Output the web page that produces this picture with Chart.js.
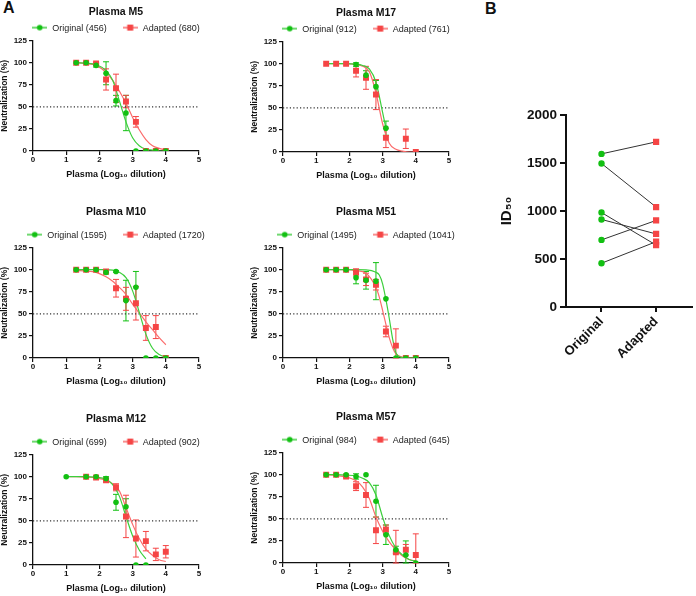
<!DOCTYPE html>
<html>
<head>
<meta charset="utf-8">
<script src="https://cdn.jsdelivr.net/npm/chart.js@4.4.1/dist/chart.umd.min.js"></script>
<style>
  body { margin: 0; background: #fff; width: 696px; height: 596px; overflow: hidden; position: relative;
         font-family: "Liberation Sans", Arial, sans-serif; }
  canvas { position: absolute; }
  .tag { position: absolute; font-weight: bold; font-size: 16px; line-height: 16px; color: #111; }
</style>
</head>
<body>
<div class="tag" style="left:3px;top:0px">A</div>
<div class="tag" style="left:485px;top:1px">B</div>
<canvas id="m5" width="220" height="190" style="left:0;top:0"></canvas>
<canvas id="m17" width="220" height="190" style="left:250px;top:1px"></canvas>
<canvas id="m10" width="220" height="197" style="left:0;top:200px"></canvas>
<canvas id="m51" width="220" height="197" style="left:250px;top:200px"></canvas>
<canvas id="m12" width="220" height="197" style="left:0;top:407px"></canvas>
<canvas id="m57" width="220" height="197" style="left:250px;top:405px"></canvas>
<canvas id="id50" width="216" height="390" style="left:480px;top:0"></canvas>
<script>
// x positions of the dilutions (log10)
const dilutions = [1.3, 1.6, 1.9, 2.2, 2.5, 2.8, 3.1, 3.4, 3.7, 4.0];
const dilutionsM12 = [1.0, 1.6, 1.9, 2.2, 2.5, 2.8, 3.1, 3.4, 3.7, 4.0];
const cutoffX = [0, 5];
const cutoffY = [50, 50];
const fitGrid = [1.3, 1.6, 1.9, 2.2, 2.4, 2.6, 2.8, 3.0, 3.2, 3.4, 3.6, 3.8, 4.0];

// Plasma M5
const m5Original = [100, 100, 97, 88, 57, 43, 0, 0, 0, 0];
const m5OriginalSD = [0, 0, 2, 13, 6, 20, 0, 0, 0, 0];
const m5Adapted = [100, 100, 99, 81, 71, 56, 33, 0, 0, 0];
const m5AdaptedSD = [0, 0, 1, 12, 16, 7, 6, 0, 0, 0];
const m5OriginalFit = [100, 99.5, 98, 91, 80, 57, 33, 15, 6, 2, 1, 0, 0];
const m5AdaptedFit = [100, 99, 97, 89, 80, 68, 54, 38, 24, 13, 6, 3, 1];

// Plasma M17
const m17Original = [null, null, null, 99, 87, 74, 27, null, null, null];
const m17OriginalSD = [0, 0, 0, 2, 5, 7, 8, 0, 0, 0];
const m17Adapted = [100, 100, 100, 92, 84, 65, 16, null, 15, 0];
const m17AdaptedSD = [0, 0, 0, 7, 13, 17, 11, 0, 11, 0];
const m17OriginalFitX = [1.3, 1.6, 1.9, 2.2, 2.4, 2.6, 2.8, 3.0, 3.1];
const m17OriginalFit = [100, 100, 100, 99.5, 98, 94, 79, 45, 27];
const m17AdaptedFit = [100, 100, 100, 99, 97, 91, 67, 32, 10, 3, 1, 0, 0];

// Plasma M10
const m10Original = [100, 100, 100, 97, 98, 65, 80, 0, 0, 0];
const m10OriginalSD = [0, 0, 0, 2, 1, 23, 18, 0, 0, 0];
const m10Adapted = [100, 100, 100, 98, 79, 67, 62, 34, 35, 0];
const m10AdaptedSD = [0, 0, 0, 2, 10, 13, 19, 14, 13, 0];
const m10OriginalFit = [100, 100, 100, 100, 99.5, 97, 91, 76, 52, 27, 11, 4, 1];
const m10AdaptedFit = [99, 98.5, 97, 92, 87, 80, 72, 61, 51, 41, 32, 23, 15];

// Plasma M51
const m51FitX = [1.3, 1.6, 1.9, 2.2, 2.5, 2.8, 2.9, 3.0, 3.1, 3.2, 3.3, 3.4, 3.6, 3.8, 4.0];
const m51Original = [100, 100, 100, 91, 88, 87, 67, 0, 0, 0];
const m51OriginalSD = [0, 0, 0, 7, 10, 21, 0, 0, 0, 0];
const m51Adapted = [100, 100, 100, 97, 89, 83, 30, 14, 0, 0];
const m51AdaptedSD = [0, 0, 0, 4, 7, 6, 6, 19, 0, 0];
const m51OriginalFit = [100, 100, 100, 100, 99.7, 97, 94, 84, 66, 45, 22, 6, 0.5, 0, 0];
const m51AdaptedFit = [100, 100, 100, 99, 96, 80, 69, 54, 38, 23, 12, 5, 1, 0, 0];

// Plasma M12
const m12Original = [100, 100, 100, 98, 71, 66, 0, 0, null, null];
const m12OriginalSD = [0, 0, 0, 2, 9, 9, 0, 0, 0, 0];
const m12Adapted = [null, 100, 99, 96, 88, 55, 30, 27, 12, 15];
const m12AdaptedSD = [0, 0, 1, 2, 4, 24, 21, 11, 7, 7];
const m12OriginalFitX = [1.0, 1.3, 1.6, 1.9, 2.2, 2.4, 2.6, 2.8, 3.0, 3.2, 3.4];
const m12OriginalFit = [100, 100, 100, 99.5, 97, 91, 78, 55, 33, 17, 7];
const m12AdaptedFitX = [1.0, 1.3, 1.6, 1.9, 2.2, 2.4, 2.6, 2.8, 3.0, 3.2, 3.4, 3.6, 3.8, 4.0];
const m12AdaptedFit = [100, 100, 99.5, 98.5, 96, 92, 84, 65, 46, 30, 18, 11, 6, 4];

// Plasma M57
const m57Original = [100, 100, 100, 98, 100, 70, 32, 15, 9, 0];
const m57OriginalSD = [0, 0, 0, 3, 0, 18, 11, 4, 16, 0];
const m57Adapted = [100, 100, 98, 87, 77, 37, 38, 12, 15, 9];
const m57AdaptedSD = [0, 0, 1, 5, 14, 15, 5, 25, 6, 24];
const m57OriginalFit = [100, 100, 99.5, 98.5, 96, 91, 77, 52, 31, 17, 9, 4, 2];
const m57AdaptedFit = [100, 99, 97.5, 93, 86, 73, 52, 36, 24, 15, 8, 4, 2];

// Panel B: ID50 per plasma (M10, M51, M57, M17, M12, M5)
const groups = ['Original', 'Adapted'];
const id50Original = [1595, 1495, 984, 912, 699, 456];
const id50Adapted = [1720, 1041, 645, 761, 902, 680];

const GREEN = '#12c012';
const GREEN_FIT = '#3ccf3c';
const RED = '#f54545';
const RED_FIT = '#fb6b6b';
const INK = '#111';
const FONT = '"Liberation Sans", Arial, sans-serif';

Chart.defaults.font.family = FONT;
Chart.defaults.color = INK;
Chart.defaults.animation = false;

const toXY = (xs, ys) => xs.map((x, i) => ({ x: x, y: ys[i] })).filter(p => p.y != null);

function legendIcon(color, style) {
  const c = document.createElement('canvas');
  c.width = 15; c.height = 8;
  const g = c.getContext('2d');
  g.strokeStyle = color; g.lineWidth = 1.2;
  g.beginPath(); g.moveTo(0, 4); g.lineTo(15, 4); g.stroke();
  g.fillStyle = color;
  if (style === 'circle') { g.beginPath(); g.arc(7.5, 4, 2.8, 0, Math.PI * 2); g.fill(); }
  else g.fillRect(4.5, 1, 6, 6);
  return c;
}
const iconOriginal = legendIcon(GREEN, 'circle');
const iconAdapted = legendIcon(RED, 'rect');

// legend with a line+marker symbol, centred over the plot area
function pairLegend(origLabel, adaptLabel) {
  const items = [{ icon: iconOriginal, text: origLabel }, { icon: iconAdapted, text: adaptLabel }];
  return {
    id: 'pairLegend',
    afterDraw(chart) {
      const { ctx, chartArea } = chart;
      ctx.save();
      ctx.font = '9px ' + FONT;
      ctx.textBaseline = 'middle';
      ctx.fillStyle = '#222';
      const widths = items.map(it => 15 + 5 + ctx.measureText(it.text).width);
      const gap = 16;
      const total = widths[0] + widths[1] + gap;
      let x = (chartArea.left + chartArea.right) / 2 - total / 2;
      const y = chartArea.top - 13;
      items.forEach((it, i) => {
        ctx.drawImage(it.icon, x, y - 4);
        ctx.fillText(it.text, x + 20, y + 0.5);
        x += widths[i] + gap;
      });
      ctx.restore();
    }
  };
}

// error bars drawn from the sd arrays, through the chart scales
const errorBars = {
  id: 'errorBars',
  beforeDatasetsDraw(chart) {
    const { ctx, scales: { x, y } } = chart;
    chart.data.datasets.forEach(ds => {
      if (!ds.sd) return;
      ctx.save();
      ctx.strokeStyle = ds.backgroundColor;
      ctx.lineWidth = 1;
      ds.data.forEach((p, j) => {
        const s = ds.sd[ds.srcIndex[j]];
        if (!s) return;
        const px = x.getPixelForValue(p.x);
        const top = y.getPixelForValue(p.y + s);
        const bot = y.getPixelForValue(Math.max(0, p.y - s));
        ctx.beginPath();
        ctx.moveTo(px, top); ctx.lineTo(px, bot);
        ctx.moveTo(px - 3, top); ctx.lineTo(px + 3, top);
        ctx.moveTo(px - 3, bot); ctx.lineTo(px + 3, bot);
        ctx.stroke();
      });
      ctx.restore();
    });
  }
};

function pointSet(xs, ys, sd, color, style, radius) {
  const idx = [];
  ys.forEach((v, i) => { if (v != null) idx.push(i); });
  return {
    data: toXY(xs, ys), sd: sd, srcIndex: idx, showLine: false,
    pointStyle: style, pointRadius: radius, pointHoverRadius: radius,
    backgroundColor: color, borderColor: color, borderWidth: 0
  };
}

function fitSet(xs, ys, color) {
  return {
    data: toXY(xs, ys), showLine: true, borderColor: color, borderWidth: 1.2,
    pointRadius: 0, cubicInterpolationMode: 'monotone', fill: false
  };
}

function panel(id, title, titleGap, xs, orig, origSD, adapt, adaptSD, origFitX, origFit, adaptFitX, adaptFit, origLabel, adaptLabel) {
  new Chart(document.getElementById(id), {
    type: 'scatter',
    data: {
      datasets: [
        pointSet(xs, orig, origSD, GREEN, 'circle', 2.8),
        pointSet(xs, adapt, adaptSD, RED, 'rect', 4.2),
        fitSet(origFitX, origFit, GREEN_FIT),
        fitSet(adaptFitX, adaptFit, RED_FIT),
        { data: toXY(cutoffX, cutoffY), showLine: true, borderColor: '#333', borderWidth: 1.1,
          borderDash: [1.2, 2.2], pointRadius: 0 }
      ]
    },
    options: {
      responsive: false,
      layout: { padding: { left: 0, right: 21, top: 2, bottom: 0 } },
      plugins: {
        tooltip: { enabled: false },
        legend: { display: false },
        title: { display: true, text: title, fullSize: false, color: INK,
                 font: { size: 10.5, weight: 'bold' }, padding: { top: 4, bottom: titleGap } }
      },
      scales: {
        x: {
          type: 'linear', min: 0, max: 5,
          afterFit: s => { s.height = 39; },
          ticks: { stepSize: 1, padding: 0, color: INK, font: { size: 8, weight: 'bold' } },
          grid: { drawOnChartArea: false, tickLength: 4, color: INK, lineWidth: 1.2 },
          border: { color: INK, width: 1.3 },
          title: { display: true, text: 'Plasma (Log₁₀ dilution)', color: INK, padding: 10,
                   font: { size: 9, weight: 'bold' } }
        },
        y: {
          min: 0, max: 125,
          afterFit: s => { s.width = 33; },
          ticks: { stepSize: 25, padding: 2, color: INK, font: { size: 8, weight: 'bold' } },
          grid: { drawOnChartArea: false, tickLength: 4, color: INK, lineWidth: 1.2 },
          border: { color: INK, width: 1.3 },
          title: { display: true, text: 'Neutralization (%)', color: INK, padding: 0,
                   font: { size: 8.5, weight: 'bold' } }
        }
      }
    },
    plugins: [errorBars, pairLegend(origLabel, adaptLabel)]
  });
}

panel('m5', 'Plasma M5', 22, dilutions, m5Original, m5OriginalSD, m5Adapted, m5AdaptedSD,
      fitGrid, m5OriginalFit, fitGrid, m5AdaptedFit, 'Original (456)', 'Adapted (680)');
panel('m17', 'Plasma M17', 22, dilutions, m17Original, m17OriginalSD, m17Adapted, m17AdaptedSD,
      m17OriginalFitX, m17OriginalFit, fitGrid, m17AdaptedFit, 'Original (912)', 'Adapted (761)');
panel('m10', 'Plasma M10', 29, dilutions, m10Original, m10OriginalSD, m10Adapted, m10AdaptedSD,
      fitGrid, m10OriginalFit, fitGrid, m10AdaptedFit, 'Original (1595)', 'Adapted (1720)');
panel('m51', 'Plasma M51', 29, dilutions, m51Original, m51OriginalSD, m51Adapted, m51AdaptedSD,
      m51FitX, m51OriginalFit, m51FitX, m51AdaptedFit, 'Original (1495)', 'Adapted (1041)');
panel('m12', 'Plasma M12', 29, dilutionsM12, m12Original, m12OriginalSD, m12Adapted, m12AdaptedSD,
      m12OriginalFitX, m12OriginalFit, m12AdaptedFitX, m12AdaptedFit, 'Original (699)', 'Adapted (902)');
panel('m57', 'Plasma M57', 29, dilutions, m57Original, m57OriginalSD, m57Adapted, m57AdaptedSD,
      fitGrid, m57OriginalFit, fitGrid, m57AdaptedFit, 'Original (984)', 'Adapted (645)');

// Panel B: paired ID50 values
new Chart(document.getElementById('id50'), {
  type: 'scatter',
  data: {
    datasets: id50Original.map((o, i) => ({
      data: [{ x: 0, y: o }, { x: 1, y: id50Adapted[i] }],
      showLine: true, borderColor: '#333', borderWidth: 1,
      pointStyle: ['circle', 'rect'], pointRadius: [3.2, 4.4],
      pointBackgroundColor: [GREEN, RED], pointBorderWidth: 0
    }))
  },
  options: {
    responsive: false,
    layout: { padding: { left: 0, right: 3, top: 115, bottom: 0 } },
    plugins: { legend: { display: false }, tooltip: { enabled: false } },
    scales: {
      x: {
        type: 'linear', min: -0.65, max: 1.65,
        afterBuildTicks: s => { s.ticks = [{ value: 0 }, { value: 1 }]; },
        afterFit: s => { s.height = 83; },
        ticks: { minRotation: 45, maxRotation: 45, padding: 2, color: INK,
                 font: { size: 13, weight: 'bold' }, callback: v => groups[v] },
        grid: { drawOnChartArea: false, tickLength: 5, color: INK, lineWidth: 2 },
        border: { color: INK, width: 2 }
      },
      y: {
        min: 0, max: 2000,
        afterFit: s => { s.width = 86; },
        ticks: { stepSize: 500, padding: 3, color: INK, font: { size: 13.5, weight: 'bold' },
                 callback: v => String(v) },
        grid: { drawOnChartArea: false, tickLength: 6, color: INK, lineWidth: 2 },
        border: { color: INK, width: 2 },
        title: { display: true, text: 'ID₅₀', color: INK, padding: 18,
                 font: { size: 15, weight: 'bold' } }
      }
    }
  }
});
</script>
</body>
</html>
